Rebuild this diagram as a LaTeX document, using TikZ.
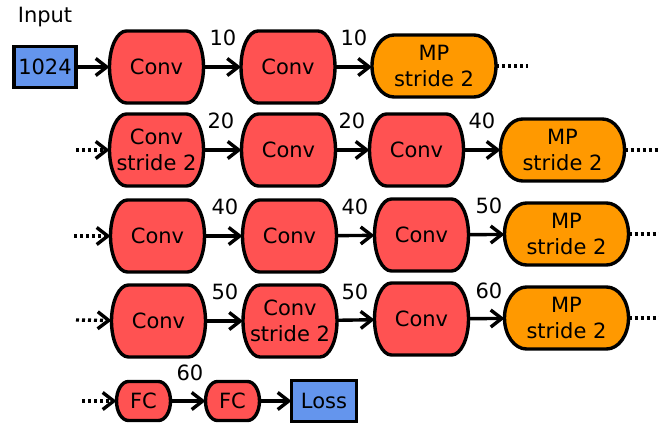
\documentclass[tikz,border=0pt]{standalone}
\usepackage{fontspec}
\setmainfont{DejaVu Sans}
\usetikzlibrary{arrows.meta,backgrounds}
\definecolor{convred}{HTML}{FF5252}
\definecolor{mporange}{HTML}{FF9900}
\definecolor{ioblue}{HTML}{6495ED}
% pill-shaped outline behind a named node: #1 node, #2 x radius, #3 y radius, #4 fill
\newcommand\pillbox[4]{%
  \draw[line width=3.4pt, fill=#4]
    ([xshift=#2pt]#1.north west) -- ([xshift=-#2pt]#1.north east)
    arc[start angle=90, end angle=0, x radius=#2pt, y radius=#3pt]
    -- ([yshift=#3pt]#1.south east)
    arc[start angle=0, end angle=-90, x radius=#2pt, y radius=#3pt]
    -- ([xshift=#2pt]#1.south west)
    arc[start angle=-90, end angle=-180, x radius=#2pt, y radius=#3pt]
    -- ([yshift=-#3pt]#1.north west)
    arc[start angle=180, end angle=90, x radius=#2pt, y radius=#3pt]
    -- cycle;}
\begin{document}
\begin{tikzpicture}[x=1pt,y=-1pt,
  every node/.style={font=\fontsize{21}{26}\selectfont},
  base/.style={inner sep=0pt, outer sep=0pt, align=center},
  conv/.style={base, minimum width=94pt, minimum height=72pt},
  mp/.style={base, minimum width=124pt, minimum height=62pt},
  fc/.style={base, minimum width=54pt, minimum height=39pt},
  io/.style={base, draw=black, line width=3.4pt, fill=ioblue, minimum height=41pt},
  lbl/.style={inner sep=0pt},
  arr/.style={line width=3.4pt, -{Straight Barb[length=11pt,width=17pt]}},
  dots/.style={line width=3.4pt, dash pattern=on 3pt off 3pt},
  dotarr/.style={dots, -{Straight Barb[length=11pt,width=17pt,line width=3.4pt]}}
]
\useasboundingbox (0,0) rectangle (659,425);
% Row 1
\node[lbl] (inlbl) at (45,17) {Input};
\node[io, minimum width=62pt] (in) at (45,67) {1024};
\node[conv] (c11) at (156.5,67) {Conv};
\node[conv] (c12) at (288,67) {Conv};
\node[mp] (m1) at (434,66) {MP\\stride 2};
\coordinate (e1) at (528,66);
\draw[arr] (in) -- (c11);
\draw[arr] (c11) -- (c12);
\draw[arr] (c12.east) -- (m1.west |- c12.east);
\draw[dots] (m1) -- (e1);
\node[lbl] (l11) at (223,38) {10};
\node[lbl] (l12) at (354,38) {10};
% Row 2
\coordinate (s2) at (76,150);
\node[conv] (c21) at (156.5,150) {Conv\\stride 2};
\node[conv] (c22) at (288.5,150) {Conv};
\node[conv] (c23) at (416.5,150) {Conv};
\node[mp] (m2) at (562.5,150) {MP\\stride 2};
\coordinate (e2) at (659,150);
\draw[dotarr] (s2) -- (c21);
\draw[arr] (c21) -- (c22);
\draw[arr] (c22) -- (c23);
\draw[arr] (c23) -- (m2);
\draw[dots] (m2) -- (e2);
\node[lbl] (l21) at (221,121) {20};
\node[lbl] (l22) at (352,121) {20};
\node[lbl] (l23) at (482,121) {40};
% Row 3
\coordinate (s3) at (74,236);
\node[conv] (c31) at (157.5,236) {Conv};
\node[conv] (c32) at (289.5,236) {Conv};
\node[conv] (c33) at (421.5,235) {Conv};
\node[mp] (m3) at (566.5,234) {MP\\stride 2};
\coordinate (e3) at (659,234);
\draw[dotarr] (s3) -- (c31);
\draw[arr] (c31) -- (c32);
\draw[arr] (c32) -- (c33);
\draw[arr] (c33) -- (m3);
\draw[dots] (m3) -- (e3);
\node[lbl] (l31) at (225,207) {40};
\node[lbl] (l32) at (355,207) {40};
\node[lbl] (l33) at (489,206) {50};
% Row 4
\coordinate (s4) at (76,320);
\node[conv] (c41) at (158.5,321) {Conv};
\node[conv] (c42) at (290,321) {Conv\\stride 2};
\node[conv] (c43) at (421.5,319) {Conv};
\node[mp] (m4) at (566.5,318) {MP\\stride 2};
\coordinate (e4) at (659,318);
\draw[dotarr] (s4) -- (c41);
\draw[arr] (c41) -- (c42);
\draw[arr] (c42) -- (c43);
\draw[arr] (c43) -- (m4);
\draw[dots] (m4) -- (e4);
\node[lbl] (l41) at (225,292) {50};
\node[lbl] (l42) at (355,292) {50};
\node[lbl] (l43) at (489,291) {60};
% Row 5
\coordinate (s5) at (82,401);
\node[fc] (f1) at (143.5,401) {FC};
\node[fc] (f2) at (232.5,401) {FC};
\node[io, minimum width=65pt] (loss) at (324,401) {Loss};
\draw[dotarr] (s5) -- (f1);
\draw[arr] (f1) -- (f2);
\draw[arr] (f2) -- (loss);
\node[lbl] (l51) at (190,373) {60};
% box outlines behind the texts
\begin{scope}[on background layer]
  \foreach \n in {c11,c12,c21,c22,c23,c31,c32,c33,c41,c42,c43}
    {\pillbox{\n}{17}{36}{convred}}
  \foreach \n in {m1,m2,m3,m4}
    {\pillbox{\n}{22}{31}{mporange}}
  \foreach \n in {f1,f2}
    {\pillbox{\n}{12}{19.5}{convred}}
\end{scope}
\end{tikzpicture}
\end{document}
